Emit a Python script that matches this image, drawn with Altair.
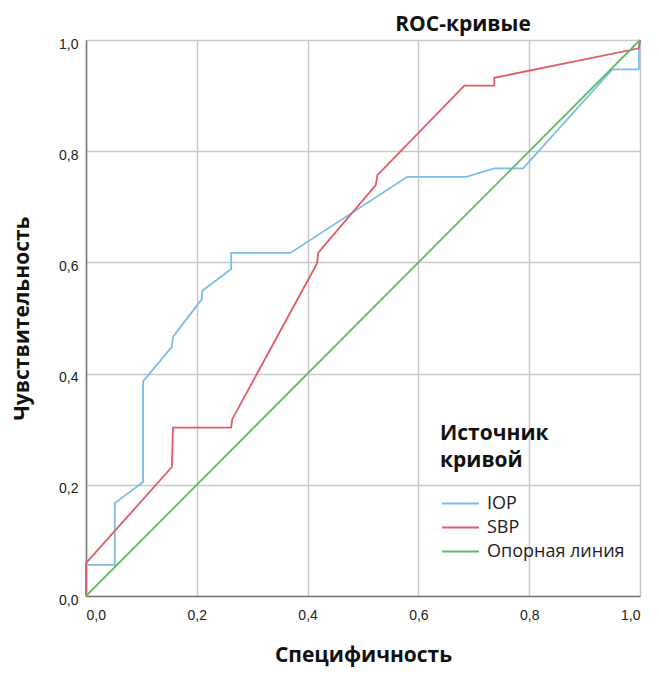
import altair as alt
import pandas as pd

# ROC curve points (1 - specificity, sensitivity)
iop_x = [0.0, 0.0, 0.052, 0.052, 0.103, 0.103, 0.155, 0.157, 0.209, 0.210, 0.262, 0.262, 0.369, 0.580, 0.686, 0.737, 0.789, 0.950, 0.998, 0.998, 1.0]
iop_y = [0.0, 0.056, 0.056, 0.167, 0.205, 0.386, 0.448, 0.466, 0.534, 0.549, 0.588, 0.617, 0.617, 0.754, 0.754, 0.769, 0.769, 0.947, 0.947, 0.988, 1.0]

sbp_x = [0.0, 0.0, 0.155, 0.157, 0.262, 0.264, 0.417, 0.419, 0.523, 0.526, 0.683, 0.737, 0.737, 0.998, 1.0]
sbp_y = [0.0, 0.059, 0.232, 0.303, 0.303, 0.318, 0.598, 0.617, 0.739, 0.757, 0.918, 0.918, 0.932, 0.985, 1.0]

ref_x = [0.0, 1.0]
ref_y = [0.0, 1.0]

series = ["IOP", "SBP", "Опорная линия"]
colors = ["#7dbde3", "#e05c68", "#66b86c"]
ticks = [0.0, 0.2, 0.4, 0.6, 0.8, 1.0]

rows = []
for name, xs, ys in [(series[0], iop_x, iop_y), (series[1], sbp_x, sbp_y), (series[2], ref_x, ref_y)]:
    for i, (xv, yv) in enumerate(zip(xs, ys)):
        rows.append({"series": name, "x": xv, "y": yv, "ord": i})
df = pd.DataFrame(rows)

label_expr = "replace(format(datum.value, '.1f'), '.', ',')"

chart = alt.Chart(df).mark_line(strokeWidth=1.8).encode(
    x=alt.X("x:Q", scale=alt.Scale(domain=[0, 1], nice=False),
            axis=alt.Axis(values=ticks, labelExpr=label_expr, title="Специфичность",
                          titlePadding=22, labelPadding=12)),
    y=alt.Y("y:Q", scale=alt.Scale(domain=[0, 1], nice=False),
            axis=alt.Axis(values=ticks, labelExpr=label_expr, title="Чувствительность",
                          titlePadding=26, labelPadding=8, labelOffset=4)),
    color=alt.Color("series:N", scale=alt.Scale(domain=series, range=colors),
                    legend=alt.Legend(title=["Источник", "кривой"], orient="none",
                                      legendX=354, legendY=383,
                                      symbolType="M-1.4,0L1.4,0", symbolSize=700,
                                      symbolStrokeWidth=2, rowPadding=0,
                                      symbolOffset=6,
                                      labelOffset=12, titlePadding=18)),
    order="ord:Q",
).properties(
    width=554, height=556,
    padding={"left": 3, "top": 6, "right": 0, "bottom": 4},
    title=alt.TitleParams("ROC-кривые", anchor="middle", dx=100, offset=1, frame="group",
                          font="Open Sans", fontSize=21, fontWeight="bold", color="#111")
).configure_view(stroke=None).configure_axis(
    grid=True, gridColor="#c9c9c9", gridWidth=1.5, domainColor="#777", domainWidth=1.5,
    ticks=False, labelFont="Liberation Sans", labelFontSize=14, labelColor="#222",
    titleFont="Open Sans", titleFontSize=21, titleFontWeight="bold", titleColor="#111"
).configure_axisY(
    labelBaseline="middle"
).configure_legend(
    titleFont="Open Sans", titleFontSize=21, titleFontWeight="bold", titleColor="#111",
    labelFont="Open Sans", labelFontSize=18, labelColor="#222", titleLineHeight=27
)

chart.save("out.html", embed_options={"renderer": "svg", "actions": False})
